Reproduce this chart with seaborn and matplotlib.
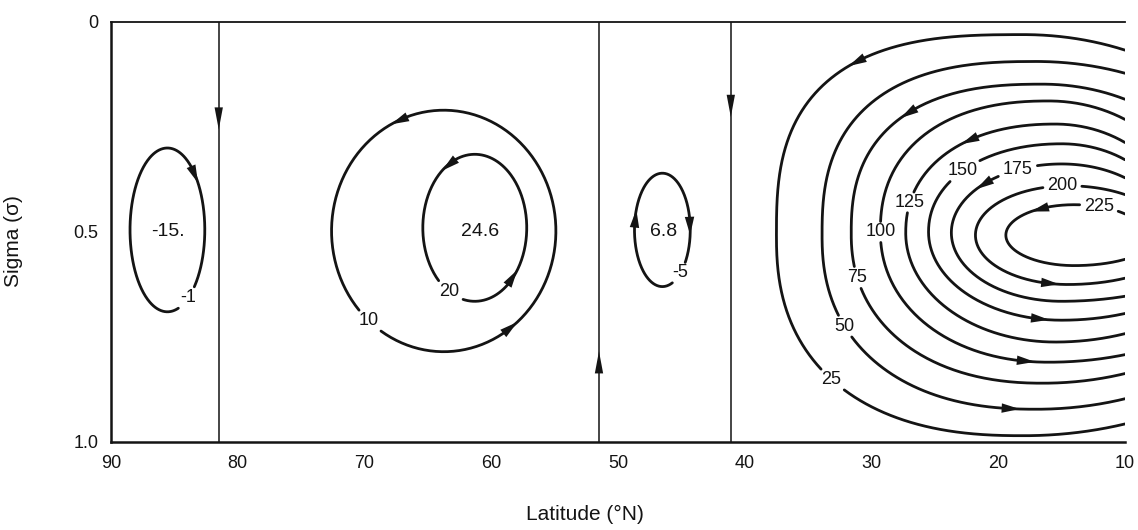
import numpy as np
import pandas as pd
import matplotlib
matplotlib.use("Agg")
import matplotlib.pyplot as plt
import seaborn as sns

# closed cells (ellipses): contour value, centre, half sizes, sense (+1 = clockwise on the page)
cell_levels = ["-1", "10", "20", "-5"]
cell_lat = [85.55, 63.75, 61.3, 46.5]
cell_sigma = [0.495, 0.4975, 0.49, 0.495]
cell_half_lat = [2.95, 8.85, 4.1, 2.2]
cell_half_sigma = [0.195, 0.2875, 0.175, 0.135]
cell_sense = [1, -1, -1, 1]
cell_label_lat = [83.8, 70.0, 63.5, 44.6]
cell_label_sigma = [0.66, 0.718, 0.646, 0.605]

# Hadley cell contours, open at 10N
hadley_levels = ["25", "50", "75", "100", "125", "150", "175", "200", "225"]
hadley_left = [37.5, 33.9, 31.6, 29.3, 27.3, 25.5, 23.7, 21.8, 19.4]
hadley_peak_lat = [18.0, 17.0, 16.5, 16.0, 15.5, 15.0, 15.0, 14.5, 14.0]
hadley_top = [0.030, 0.094, 0.148, 0.188, 0.243, 0.290, 0.338, 0.390, 0.435]
hadley_top_end = [0.067, 0.122, 0.184, 0.232, 0.287, 0.328, 0.371, 0.411, 0.457]
hadley_bottom = [0.985, 0.922, 0.860, 0.810, 0.762, 0.710, 0.665, 0.625, 0.580]
hadley_bottom_end = [0.957, 0.897, 0.837, 0.792, 0.742, 0.694, 0.653, 0.610, 0.565]
hadley_square_top = [2.8, 2.6, 2.5, 2.3, 2.2, 2.1, 2.0, 2.0, 2.0]
hadley_square_bottom = [2.4, 2.3, 2.2, 2.1, 2.0, 2.0, 2.0, 2.0, 2.0]
hadley_label_lat = [33.4, 32.0, 31.2, 29.4, 26.9, 22.5, 18.4, 15.0, 12.1]
hadley_label_sigma = [0.856, 0.725, 0.61, 0.50, 0.43, 0.366, 0.36, 0.385, 0.445]

# cell centre values
centre_text = ["-15.", "24.6", "6.8"]
centre_lat = [85.5, 60.9, 46.4]
centre_sigma = [0.50, 0.50, 0.50]

# flow arrows on the contours
arrow_contour = ["-1", "10", "10", "20", "20", "-5", "-5",
                 "25", "75", "125", "175", "225", "200", "150", "100", "50"]
arrow_lat = [83.4, 67.2, 58.4, 63.5, 58.4, 48.6, 44.2,
             30.8, 26.5, 22.0, 21.0, 16.8, 15.9, 16.7, 17.8, 19.0]
arrow_sigma = [0.366, 0.234, 0.73, 0.337, 0.605, 0.466, 0.486,
               0.11, 0.246, 0.30, 0.397, 0.445, 0.627, 0.718, 0.81, 0.916]

# zero streamlines
zero_lat = [81.5, 51.5, 41.1]
zero_arrow_sigma = [0.23, 0.81, 0.20]
zero_arrow_down = [True, False, True]

lat_ticks = [90, 80, 70, 60, 50, 40, 30, 20, 10]
sigma_ticks = [0, 0.5, 1.0]
sigma_ticklabels = ["0", "0.5", "1.0"]

INK = "#141414"


def ellipse_curve(c, s, a, b, n=360):
    t = np.linspace(0, 2 * np.pi, n, endpoint=False)
    return c + a * np.cos(t), s - b * np.sin(t)


def hadley_curve(left, peak, top, top_end, bottom, bottom_end, nt, nb, edge=10.0, n=150):
    mid = (top + bottom) / 2
    a_left = left - peak
    bt, bb = mid - top, bottom - mid

    def right_axis(b, end):
        v = abs(end - mid) / b
        return (peak - edge) / np.sqrt(1 - v ** 2)

    ar_t, ar_b = right_axis(bt, top_end), right_axis(bb, bottom_end)
    ph_t = np.linspace(np.arcsin((peak - edge) / ar_t), 0, n // 2)
    ph_b = np.linspace(0, np.arcsin((peak - edge) / ar_b), n // 2)
    t_up = np.linspace(np.pi / 2, 0, n)
    t_dn = np.linspace(0, np.pi / 2, n)
    lat = np.concatenate([peak - ar_t * np.sin(ph_t),
                          peak + a_left * np.cos(t_up) ** (2 / nt),
                          peak + a_left * np.cos(t_dn) ** (2 / nb),
                          peak - ar_b * np.sin(ph_b)])
    sig = np.concatenate([mid - bt * np.cos(ph_t),
                          mid - bt * np.sin(t_up) ** (2 / nt),
                          mid + bb * np.sin(t_dn) ** (2 / nb),
                          mid + bb * np.cos(ph_b)])
    return lat, sig


sns.set_style("white")
plt.rcParams["font.family"] = ["Liberation Sans", "DejaVu Sans"]

fig = plt.figure(figsize=(11.38, 5.30), dpi=100)
ax = fig.add_axes([111 / 1138, 1 - 442 / 530, (1125 - 111) / 1138, (442 - 22) / 530])
ax.set_xlim(90, 10)
ax.set_ylim(1.0, 0.0)
to_disp = ax.transData.transform
to_data = ax.transData.inverted().transform


def nearest(pts, lat, sig):
    p = to_disp([[lat, sig]])[0]
    return int(np.argmin(np.hypot(*(pts - p).T)))


def walk(pts, i, dist, closed):
    step = 1 if dist > 0 else -1
    j, acc = i, 0.0
    while acc < abs(dist):
        k = j + step
        if closed:
            k %= len(pts)
        elif k < 0 or k >= len(pts):
            break
        acc += np.hypot(*(pts[k] - pts[j]))
        j = k
    return j


# build every contour: name -> (lat, sigma, sense, closed, label index)
curves = {}
for k, name in enumerate(cell_levels):
    lat, sig = ellipse_curve(cell_lat[k], cell_sigma[k], cell_half_lat[k], cell_half_sigma[k])
    pts = to_disp(np.column_stack([lat, sig]))
    i0 = nearest(pts, cell_label_lat[k], cell_label_sigma[k])
    lat, sig = np.roll(lat, -i0), np.roll(sig, -i0)
    curves[name] = (lat, sig, cell_sense[k], True, 0)
for k, name in enumerate(hadley_levels):
    lat, sig = hadley_curve(hadley_left[k], hadley_peak_lat[k], hadley_top[k], hadley_top_end[k],
                            hadley_bottom[k], hadley_bottom_end[k],
                            hadley_square_top[k], hadley_square_bottom[k])
    pts = to_disp(np.column_stack([lat, sig]))
    i0 = nearest(pts, hadley_label_lat[k], hadley_label_sigma[k])
    curves[name] = (lat, sig, 1, False, i0)

# cut a gap at each label and gather segments
rows = []
seg = 0
label_pos = {}
for name, (lat, sig, sense, closed, i0) in curves.items():
    pts = to_disp(np.column_stack([lat, sig]))
    hw = 5.0 * len(name) + 4
    d = pts - pts[i0]
    keep = ~((np.abs(d[:, 0]) < hw) & (np.abs(d[:, 1]) < 10))
    label_pos[name] = (lat[i0], sig[i0])
    start = None
    for j, v in enumerate(list(keep) + [False]):
        if v and start is None:
            start = j
        elif not v and start is not None:
            rows.append(pd.DataFrame({"lat": lat[start:j], "sigma": sig[start:j], "seg": seg}))
            seg += 1
            start = None
lines = pd.concat(rows, ignore_index=True)

sns.lineplot(data=lines, x="lat", y="sigma", units="seg", estimator=None, sort=False,
             color=INK, linewidth=2.0, ax=ax, legend=False)

# zero streamlines with arrows
ax.vlines(zero_lat, 0, 1, color=INK, linewidth=1.1)
zero_head = dict(arrowstyle="-|>,head_length=1.6,head_width=0.3", color=INK, lw=0,
                 shrinkA=0, shrinkB=0, mutation_scale=10)
for x, s, down in zip(zero_lat, zero_arrow_sigma, zero_arrow_down):
    p = to_disp([[x, s]])[0]
    off = np.array([0, 11.0]) * (1 if down else -1)
    tail, tip = to_data([p + off, p - off])
    ax.annotate("", xy=tip, xytext=tail, arrowprops=zero_head)

# arrows along the contours
head = dict(arrowstyle="-|>,head_length=1.3,head_width=0.34", color=INK, lw=0,
            shrinkA=0, shrinkB=0, mutation_scale=10)
for name, la, sg in zip(arrow_contour, arrow_lat, arrow_sigma):
    lat, sig, sense, closed, _ = curves[name]
    pts = to_disp(np.column_stack([lat, sig]))
    i = nearest(pts, la, sg)
    tip = walk(pts, i, 8.0 * sense, closed)
    tail = walk(pts, i, -8.0 * sense, closed)
    ax.annotate("", xy=(lat[tip], sig[tip]), xytext=(lat[tail], sig[tail]), arrowprops=head)

# contour labels and centre values
for name, (x, s) in label_pos.items():
    ax.text(x, s, name, ha="center", va="center", fontsize=13, color=INK)
for t, x, s in zip(centre_text, centre_lat, centre_sigma):
    ax.text(x, s, t, ha="center", va="center", fontsize=14, color=INK)

ax.set_xlim(90, 10)
ax.set_ylim(1.0, 0.0)
ax.set_xticks(lat_ticks)
ax.set_xticklabels([str(v) for v in lat_ticks])
ax.set_yticks(sigma_ticks)
ax.set_yticklabels(sigma_ticklabels)
ax.tick_params(axis="x", direction="in", length=6, width=1.3, pad=9, labelsize=13, colors=INK)
ax.tick_params(axis="y", direction="out", length=5, width=1.3, pad=4, labelsize=13, colors=INK)
for side in ["left", "bottom"]:
    ax.spines[side].set_linewidth(1.8)
    ax.spines[side].set_color(INK)
ax.spines["top"].set_linewidth(1.3)
ax.spines["top"].set_color(INK)
ax.spines["right"].set_visible(False)

ax.set_xlabel("Latitude (°N)", fontsize=15, color=INK)
ax.set_ylabel("Sigma (σ)", fontsize=15, color=INK)
ax.xaxis.set_label_coords(0.467, -0.150)
ax.yaxis.set_label_coords(-0.087, 0.478)

fig.savefig("out.png", dpi=100, facecolor="white")
